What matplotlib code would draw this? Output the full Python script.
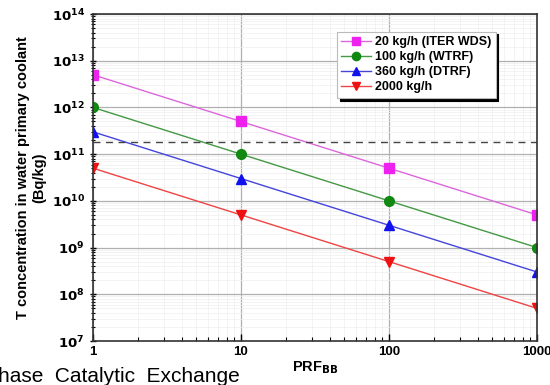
import matplotlib.pyplot as plt
import numpy as np

plt.rcParams['font.family'] = ['Liberation Sans', 'DejaVu Sans']
plt.rcParams['font.weight'] = 'bold'

prf = [1, 10, 100, 1000]
labels = ["20 kg/h (ITER WDS)", "100 kg/h (WTRF)", "360 kg/h (DTRF)", "2000 kg/h"]
conc_20 = [5e12, 5e11, 5e10, 5e9]
conc_100 = [1e12, 1e11, 1e10, 1e9]
conc_360 = [3e11, 3e10, 3e9, 3e8]
conc_2000 = [5e10, 5e9, 5e8, 5e7]
limit = 1.85e11

series = [conc_20, conc_100, conc_360, conc_2000]
colors = ['#ee22ee', '#118811', '#1111ee', '#ee1111']
line_colors = ['#dd66dd', '#449944', '#4444dd', '#ee4444']
markers = ['s', 'o', '^', 'v']

fig = plt.figure(figsize=(5.5, 3.85), dpi=100)
ax = fig.add_axes([93/550, 1 - 341/385, (537-93)/550, (341-14)/385])

for y, lab, c, lc, m in zip(series, labels, colors, line_colors, markers):
    ax.plot(prf, y, color=lc, lw=1.0, marker=m, markersize=7,
            markerfacecolor=c, markeredgecolor=c, label=lab, clip_on=True)

ax.axhline(limit, color='#444444', ls=(0, (5, 4)), lw=1.0)

ax.set_xscale('log')
ax.set_yscale('log')
ax.set_xlim(1, 1000)
ax.set_ylim(1e7, 1e14)
ax.set_xticks([1, 10, 100, 1000])
ax.set_xticklabels(['1', '10', '100', '1000'])
ax.set_yticks([10.0**k for k in range(7, 15)])
ax.set_yticklabels([r'$\mathbf{10^{%d}}$' % k for k in range(7, 15)])
ax.tick_params(axis='both', labelsize=9.5)
ax.tick_params(axis='y', which='both', direction='inout')
ax.tick_params(axis='x', which='both', direction='in')
ax.tick_params(which='major', length=5, width=1)
ax.tick_params(which='minor', length=3, width=0.8)

ax.grid(True, which='major', color='#b0b0b0', lw=0.9)
ax.grid(True, which='minor', color='#eeeeee', lw=0.5)
for s in ax.spines.values():
    s.set_linewidth(1.2)
    s.set_color('#333333')

ax.set_xlabel(r'PRF$_{\mathbf{BB}}$', fontsize=10.5, fontweight='bold', labelpad=1)
ax.set_ylabel('T concentration in water primary coolant\n(Bq/kg)',
              fontsize=10.5, fontweight='bold', labelpad=4)

leg = ax.legend(loc='upper right', bbox_to_anchor=(0.921, 0.965), fontsize=9,
                frameon=True, fancybox=False, framealpha=1,
                shadow={'color': 'black', 'alpha': 1},
                borderpad=0.35, handlelength=2.4, handletextpad=0.3,
                labelspacing=0.25, markerscale=0.85)
leg.get_frame().set_edgecolor('#bbbbbb')
leg.get_frame().set_linewidth(0.8)
leg.set_zorder(5)

fig.text(-0.004, 3/385, 'hase  Catalytic  Exchange', fontsize=15,
         fontweight='normal', ha='left', va='baseline')

fig.savefig('out.png', dpi=100)
